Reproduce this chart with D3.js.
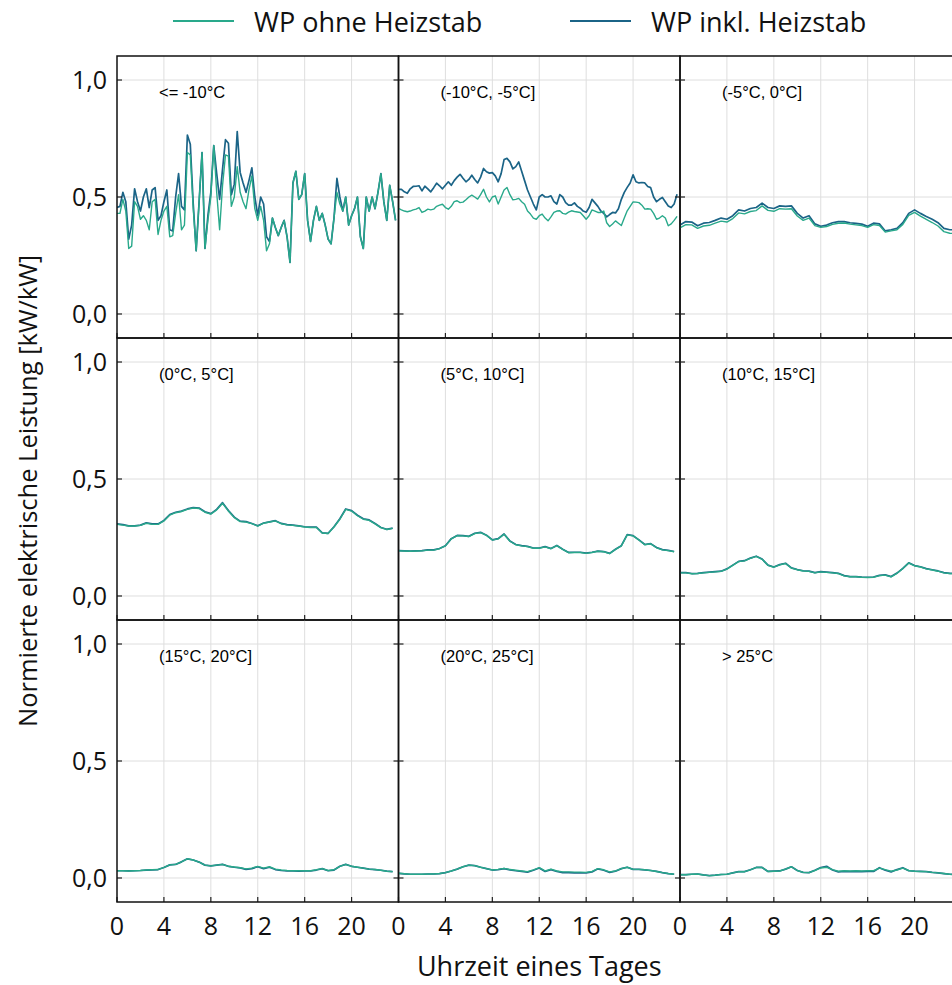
<!DOCTYPE html>
<html>
<head>
<meta charset="utf-8">
<script src="https://cdn.jsdelivr.net/npm/d3@7/dist/d3.min.js"></script>
<style>
  body { margin: 0; background: #fff; }
  svg { display: block; }
</style>
</head>
<body>
<svg id="chart" width="952" height="985"></svg>
<script>
// temperature classes
var panelLabels = ["<= -10°C", "(-10°C, -5°C]", "(-5°C, 0°C]",
                   "(0°C, 5°C]", "(5°C, 10°C]", "(10°C, 15°C]",
                   "(15°C, 20°C]", "(20°C, 25°C]", "> 25°C"]
var seriesNames = ["WP ohne Heizstab", "WP inkl. Heizstab"]
var xTicks = [0, 4, 8, 12, 16, 20]
var yTicks = [0, 0.5, 1.0]
var yTickLabels = ["0,0", "0,5", "1,0"]

// 15-min values (96 per day)
var ohne1 = [.43,.43,.49,.44,.28,.29,.48,.46,.405,.42,.40,.36,.48,.49,.34,.40,.44,.46,.33,.335,.43,.51,.36,.38,
             .69,.68,.45,.27,.48,.69,.28,.40,.50,.72,.52,.36,.55,.68,.675,.46,.50,.63,.52,.48,.45,.53,.59,.45,
             .40,.46,.40,.27,.30,.41,.37,.335,.37,.40,.33,.22,.56,.61,.49,.51,.60,.40,.31,.40,.46,.40,.43,.38,
             .32,.30,.41,.52,.47,.44,.50,.38,.42,.45,.50,.33,.28,.50,.44,.50,.45,.52,.60,.48,.40,.55,.48,.40]
var inkl1 = [.455,.46,.52,.48,.32,.38,.535,.48,.44,.50,.535,.455,.53,.54,.40,.42,.48,.53,.36,.355,.50,.60,.46,.445,
             .765,.725,.47,.27,.48,.69,.28,.42,.52,.72,.60,.49,.62,.745,.73,.51,.555,.78,.605,.56,.52,.57,.625,.50,
             .42,.50,.47,.33,.31,.41,.37,.335,.37,.40,.33,.22,.56,.61,.49,.51,.60,.40,.31,.40,.46,.40,.43,.38,
             .32,.30,.41,.58,.50,.44,.50,.38,.42,.45,.50,.33,.28,.50,.44,.50,.45,.52,.60,.48,.40,.55,.48,.40]
var ohne2 = [.451,.445,.44,.437,.44,.445,.448,.455,.434,.44,.448,.445,.448,.46,.465,.469,.455,.448,.46,.48,.484,.476,.478,.488,
             .50,.508,.50,.491,.51,.533,.50,.479,.50,.505,.47,.50,.53,.541,.51,.488,.49,.494,.48,.469,.44,.427,.41,.405,
             .42,.427,.41,.398,.415,.434,.44,.441,.43,.427,.435,.441,.438,.436,.434,.42,.405,.42,.445,.44,.434,.434,.44,.39,
             .374,.385,.398,.388,.378,.41,.441,.46,.479,.478,.476,.465,.448,.45,.448,.43,.405,.41,.42,.41,.377,.385,.40,.417]
var inkl2 = [.533,.533,.522,.516,.535,.545,.546,.548,.526,.546,.535,.522,.54,.559,.548,.535,.55,.565,.55,.57,.585,.597,.58,.565,
             .575,.593,.575,.56,.585,.622,.608,.602,.604,.59,.565,.60,.66,.665,.65,.62,.63,.65,.61,.57,.53,.50,.47,.445,
             .50,.51,.50,.50,.505,.48,.47,.51,.50,.476,.465,.465,.475,.46,.452,.44,.435,.455,.49,.475,.46,.44,.43,.415,
             .425,.434,.432,.45,.49,.52,.541,.56,.595,.565,.56,.562,.56,.545,.54,.50,.48,.49,.498,.48,.462,.455,.47,.512]

// 30-min values (48 per day)
var ohne3 = [.368,.382,.381,.366,.376,.379,.388,.397,.393,.408,.432,.428,.438,.442,.462,.443,.439,.45,.448,.45,.419,.40,.41,.378,
             .37,.374,.383,.388,.389,.384,.381,.378,.37,.382,.378,.35,.355,.36,.383,.421,.434,.418,.404,.391,.376,.352,.345,.344]
var inkl3 = [.38,.395,.393,.377,.388,.391,.40,.41,.405,.42,.445,.44,.451,.455,.474,.455,.451,.462,.46,.462,.43,.41,.42,.385,
             .375,.38,.39,.395,.395,.39,.387,.384,.375,.388,.385,.355,.36,.366,.39,.43,.445,.43,.417,.405,.39,.366,.36,.36]
var ohne4 = [.306,.303,.299,.299,.302,.311,.306,.306,.321,.346,.356,.361,.37,.376,.374,.358,.35,.368,.396,.363,.335,.318,.316,.309,
             .299,.311,.316,.321,.309,.304,.302,.299,.295,.293,.293,.269,.267,.295,.328,.37,.363,.343,.328,.323,.308,.292,.284,.289]
var inkl4 = [.308,.305,.30,.30,.303,.313,.308,.308,.323,.348,.358,.363,.372,.378,.376,.36,.352,.37,.399,.365,.337,.32,.318,.31,
             .30,.312,.317,.322,.31,.305,.303,.30,.296,.294,.294,.27,.268,.296,.33,.372,.365,.345,.33,.325,.31,.293,.285,.29]
var ohne5 = [.193,.192,.191,.192,.193,.196,.196,.202,.214,.244,.258,.257,.254,.267,.271,.259,.239,.244,.264,.234,.219,.214,.211,.204,
             .204,.21,.202,.215,.199,.185,.186,.186,.182,.186,.191,.189,.181,.199,.214,.261,.257,.239,.219,.223,.206,.197,.194,.189]
var inkl5 = [.194,.193,.192,.193,.194,.197,.197,.203,.215,.245,.259,.258,.255,.268,.272,.26,.24,.245,.265,.235,.22,.215,.212,.205,
             .205,.211,.203,.216,.20,.186,.187,.187,.183,.187,.192,.19,.182,.20,.215,.262,.258,.24,.22,.224,.207,.198,.195,.19]
var ohne6 = [.099,.099,.095,.096,.099,.101,.103,.105,.115,.131,.147,.15,.161,.169,.157,.131,.123,.133,.139,.119,.112,.107,.105,.099,
             .103,.101,.099,.096,.086,.082,.082,.08,.079,.08,.087,.089,.082,.097,.117,.141,.129,.124,.116,.111,.106,.099,.096,.095]
var inkl6 = [.10,.10,.096,.097,.10,.102,.104,.106,.116,.132,.148,.151,.162,.17,.158,.132,.124,.134,.14,.12,.113,.108,.106,.10,
             .104,.102,.10,.097,.087,.083,.083,.081,.08,.081,.088,.09,.083,.098,.118,.142,.13,.125,.117,.112,.107,.10,.097,.096]
var ohne7 = [.031,.031,.030,.031,.032,.034,.035,.036,.045,.056,.058,.069,.082,.077,.068,.055,.052,.055,.058,.05,.047,.044,.039,.042,
             .05,.042,.048,.038,.034,.032,.031,.031,.031,.031,.035,.04,.032,.035,.05,.058,.05,.046,.042,.038,.036,.033,.029,.027]
var inkl7 = [.031,.031,.030,.031,.032,.034,.035,.036,.045,.056,.058,.069,.082,.077,.068,.055,.052,.055,.058,.05,.046,.043,.037,.040,
             .048,.040,.046,.036,.032,.030,.030,.029,.030,.030,.034,.04,.031,.034,.05,.058,.05,.046,.042,.038,.036,.033,.029,.027]
var ohne8 = [.020,.018,.016,.016,.016,.017,.017,.019,.023,.030,.038,.048,.055,.053,.046,.040,.034,.037,.041,.036,.033,.030,.027,.035,
             .044,.030,.038,.030,.026,.026,.025,.025,.024,.028,.040,.035,.026,.030,.040,.046,.037,.037,.035,.032,.028,.023,.019,.016]
var inkl8 = [.020,.018,.016,.016,.016,.017,.017,.019,.023,.030,.038,.048,.055,.053,.046,.040,.034,.036,.040,.035,.031,.028,.025,.033,
             .043,.028,.036,.028,.023,.023,.022,.022,.022,.026,.039,.033,.024,.029,.040,.046,.037,.037,.035,.032,.028,.023,.019,.016]
var ohne9 = [.014,.014,.016,.017,.013,.010,.012,.015,.016,.022,.027,.027,.035,.045,.045,.028,.029,.030,.038,.048,.032,.024,.023,.032,
             .043,.046,.036,.029,.031,.030,.031,.030,.031,.031,.042,.036,.029,.034,.042,.032,.029,.028,.027,.024,.022,.019,.016,.015]
var inkl9 = [.014,.014,.016,.017,.013,.010,.012,.015,.016,.022,.027,.027,.035,.045,.045,.028,.029,.030,.038,.048,.032,.024,.023,.033,
             .045,.050,.034,.026,.028,.027,.028,.027,.028,.028,.044,.033,.026,.036,.044,.031,.029,.028,.027,.024,.022,.019,.016,.015]

var ohneAll = [ohne1, ohne2, ohne3, ohne4, ohne5, ohne6, ohne7, ohne8, ohne9]
var inklAll = [inkl1, inkl2, inkl3, inkl4, inkl5, inkl6, inkl7, inkl8, inkl9]

var colorOhne = "#29a98b"
var colorInkl = "#1b6487"
var tickFont = "'Open Sans', 'Noto Sans', sans-serif"

var svg = d3.select("#chart")
var marginLeft = 117, marginTop = 56
var colW = 281.5, rowH = 282

var xScale = d3.scaleLinear().domain([0, 24]).range([0, colW])
var yScale = d3.scaleLinear().domain([-0.1026, 1.1026]).range([rowH, 0])

var line = d3.line()
  .x(function (d, i, arr) { return xScale(i * 24 / arr.length) })
  .y(function (d) { return yScale(d) })

svg.append("defs").append("clipPath").attr("id", "panelClip")
  .append("rect").attr("x", 0).attr("y", 0).attr("width", colW).attr("height", rowH)

var panels = svg.selectAll("g.panel").data(panelLabels).enter()
  .append("g")
  .attr("class", "panel")
  .attr("transform", function (d, i) {
    return "translate(" + (marginLeft + (i % 3) * colW) + "," + (marginTop + Math.floor(i / 3) * rowH) + ")"
  })

panels.each(function (label, p) {
  var g = d3.select(this)
  var col = p % 3, row = Math.floor(p / 3)

  // grid
  g.selectAll("line.vgrid").data(xTicks.slice(1)).enter().append("line")
    .attr("x1", function (d) { return xScale(d) }).attr("x2", function (d) { return xScale(d) })
    .attr("y1", 0).attr("y2", rowH)
    .attr("stroke", "#dedede").attr("stroke-width", 1)
  g.selectAll("line.hgrid").data(yTicks).enter().append("line")
    .attr("x1", 0).attr("x2", colW)
    .attr("y1", function (d) { return yScale(d) }).attr("y2", function (d) { return yScale(d) })
    .attr("stroke", "#dedede").attr("stroke-width", 1)

  var lines = g.append("g").attr("clip-path", "url(#panelClip)")
  lines.append("path").datum(inklAll[p])
    .attr("d", line)
    .attr("fill", "none").attr("stroke", colorInkl).attr("stroke-width", 1.7)
    .attr("stroke-linejoin", "round")
  lines.append("path").datum(ohneAll[p])
    .attr("d", line)
    .attr("fill", "none").attr("stroke", colorOhne).attr("stroke-width", 1.4)
    .attr("stroke-linejoin", "round")

  // inward ticks
  g.selectAll("line.xtick").data(xTicks).enter().append("line")
    .attr("x1", function (d) { return xScale(d) }).attr("x2", function (d) { return xScale(d) })
    .attr("y1", rowH).attr("y2", rowH - 5)
    .attr("stroke", "#222").attr("stroke-width", 1.2)
  g.selectAll("line.ytickl").data(yTicks).enter().append("line")
    .attr("x1", 0).attr("x2", 5)
    .attr("y1", function (d) { return yScale(d) }).attr("y2", function (d) { return yScale(d) })
    .attr("stroke", "#222").attr("stroke-width", 1.2)
  g.selectAll("line.ytickr").data(yTicks).enter().append("line")
    .attr("x1", colW - 5).attr("x2", colW)
    .attr("y1", function (d) { return yScale(d) }).attr("y2", function (d) { return yScale(d) })
    .attr("stroke", "#222").attr("stroke-width", 1.2)

  g.append("text")
    .attr("x", 42).attr("y", 42)
    .attr("font-family", "'Liberation Sans', Arial, sans-serif")
    .attr("font-size", "16.5px")
    .attr("fill", "#000")
    .text(label)

  if (col == 0) {
    g.selectAll("text.ylab").data(yTicks).enter().append("text")
      .attr("x", -10)
      .attr("y", function (d) { return yScale(d) + 9 })
      .attr("text-anchor", "end")
      .attr("font-family", tickFont).attr("font-size", "25px").attr("fill", "#111")
      .text(function (d, i) { return yTickLabels[i] })
  }
  if (row == 2) {
    g.selectAll("text.xlab").data(xTicks).enter().append("text")
      .attr("x", function (d) { return xScale(d) })
      .attr("y", rowH + 33)
      .attr("text-anchor", "middle")
      .attr("font-family", tickFont).attr("font-size", "25px").attr("fill", "#111")
      .text(function (d) { return d })
  }

  g.append("rect")
    .attr("x", 0).attr("y", 0).attr("width", colW).attr("height", rowH)
    .attr("fill", "none").attr("stroke", "#111").attr("stroke-width", 1.5)
})

// axis titles
svg.append("text")
  .attr("x", marginLeft + 1.5 * colW).attr("y", 976)
  .attr("text-anchor", "middle")
  .attr("font-family", tickFont).attr("font-size", "27px").attr("fill", "#111")
  .text("Uhrzeit eines Tages")

svg.append("text")
  .attr("transform", "translate(37," + (marginTop + 1.5 * rowH + 12) + ") rotate(-90)")
  .attr("text-anchor", "middle")
  .attr("font-family", tickFont).attr("font-size", "25.5px").attr("fill", "#111")
  .text("Normierte elektrische Leistung [kW/kW]")

// legend
var legendX = [173, 570]
var legendColors = [colorOhne, colorInkl]
var legend = svg.selectAll("g.legend").data(seriesNames).enter()
  .append("g").attr("class", "legend")
  .attr("transform", function (d, i) { return "translate(" + legendX[i] + ",0)" })
legend.append("line")
  .attr("x1", 0).attr("x2", 61).attr("y1", 21).attr("y2", 21)
  .attr("stroke", function (d, i) { return legendColors[i] }).attr("stroke-width", 2)
legend.append("text")
  .attr("x", 81).attr("y", 32)
  .attr("font-family", tickFont).attr("font-size", "27px").attr("fill", "#111")
  .text(function (d) { return d })
</script>
</body>
</html>
